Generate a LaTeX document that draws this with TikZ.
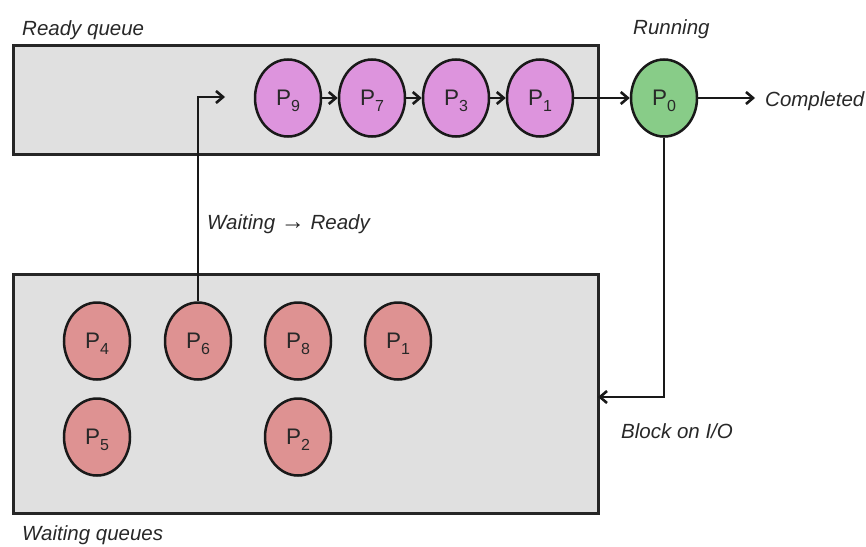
\documentclass[tikz,border=0pt]{standalone}
\usepackage{fontspec}
\setmainfont{Liberation Sans}
\usetikzlibrary{arrows.meta,shapes.geometric,shadows}
\definecolor{boxgray}{RGB}{224,224,224}
\definecolor{readyc}{RGB}{221,148,221}
\definecolor{runc}{RGB}{136,204,136}
\definecolor{waitc}{RGB}{222,146,146}
\definecolor{txt}{RGB}{40,40,40}
\newcommand{\pname}[1]{P\smash{\raisebox{-6pt}{\fontsize{16}{16}\selectfont #1}}}
\begin{document}
\begin{tikzpicture}[x=1pt,y=-1pt,
  softshadow/.style={drop shadow={shadow xshift=0.5pt,shadow yshift=-1.5pt,opacity=0.3}},
  queuebox/.style={draw=black!85,line width=2.8pt,fill=boxgray,softshadow,inner sep=0pt,anchor=north west},
  proc/.style={ellipse,draw=black!90,line width=2.5pt,minimum width=66pt,minimum height=77pt,
    inner sep=0pt,font=\fontsize{22.5}{24}\selectfont,text=txt,softshadow},
  readyp/.style={proc,fill=readyc},
  runp/.style={proc,fill=runc},
  waitp/.style={proc,fill=waitc},
  lbl/.style={font=\fontsize{20.5}{24}\selectfont\itshape,text=txt,inner sep=0pt,anchor=base west},
  conn/.style={line width=2.6pt,draw=black!90},
  arrowc/.style={-{Straight Barb[length=7pt,width=12pt,line width=2.6pt]}}
]
\useasboundingbox (0,0) rectangle (866,546);
% boxes
\node[queuebox,minimum width=585pt,minimum height=109pt] (readybox) at (12,44) {};
\node[queuebox,minimum width=585pt,minimum height=239pt] (waitbox) at (12,273) {};
% labels
\node[lbl] (lready) at (22,35) {Ready queue};
\node[lbl] (lrun) at (633,34) {Running};
\node[lbl] (done) at (765,106) {Completed};
\node[lbl] (lwr) at (207,229) {Waiting {\fontsize{24}{24}\selectfont\textrightarrow}\ Ready};
\node[lbl] (lblock) at (621,438) {Block on I/O};
\node[lbl] (lwait) at (22,540) {Waiting queues};
% ready queue
\node[readyp] (r9) at (288,98) {\pname{9}};
\node[readyp] (r7) at (372,98) {\pname{7}};
\node[readyp] (r3) at (456,98) {\pname{3}};
\node[readyp] (r1) at (540,98) {\pname{1}};
\node[runp] (run) at (664,98) {\pname{0}};
% waiting queue
\node[waitp] (w4) at (97,341) {\pname{4}};
\node[waitp] (w6) at (198,341) {\pname{6}};
\node[waitp] (w8) at (298,341) {\pname{8}};
\node[waitp] (w1) at (398,341) {\pname{1}};
\node[waitp] (w5) at (97,437) {\pname{5}};
\node[waitp] (w2) at (298,437) {\pname{2}};
% coordinates
\coordinate (entry) at (225,97);
\coordinate (blk) at (598,397);
% connectors
\draw[conn,arrowc] (r9) -- (r7);
\draw[conn,arrowc] (r7) -- (r3);
\draw[conn,arrowc] (r3) -- (r1);
\draw[conn,arrowc] (r1) -- (run);
\draw[conn,arrowc,shorten >=10pt] (run) -- (done.west |- run);
\draw[conn,arrowc] (w6.north) |- (entry);
\draw[conn,arrowc] (run.south) |- (blk);
\end{tikzpicture}
\end{document}
